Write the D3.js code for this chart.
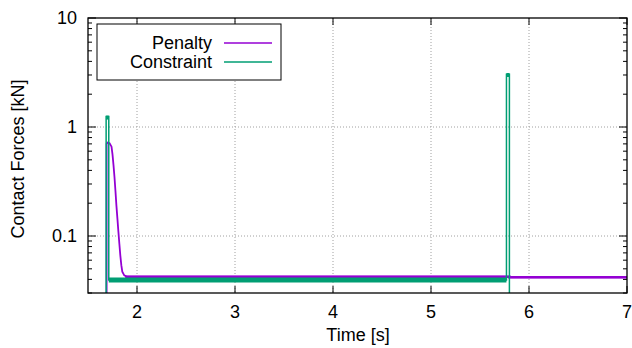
<!DOCTYPE html>
<html>
<head>
<meta charset="utf-8">
<script src="https://cdn.jsdelivr.net/npm/d3@7"></script>
<style>
  body { margin: 0; background: #fff; }
  svg text { font-family: "Liberation Sans", Arial, sans-serif; fill: #000; }
</style>
</head>
<body>
<svg id="chart" width="632" height="348"></svg>
<script>
// values
const x_ticks = [2, 3, 4, 5, 6, 7]
const y_ticks = [0.1, 1, 10]
const y_tick_labels = ['0.1', '1', '10']

// [time s, force kN]; 1e-4 means below the plotted range
const penalty = [
  [1.50, 1e-4], [1.690, 1e-4], [1.690, 0.70], [1.70, 0.72], [1.72, 0.71],
  [1.74, 0.66], [1.75, 0.56], [1.76, 0.45], [1.77, 0.35], [1.78, 0.26],
  [1.79, 0.19], [1.80, 0.145], [1.81, 0.11], [1.82, 0.085], [1.83, 0.066],
  [1.84, 0.054], [1.85, 0.047], [1.87, 0.0435], [1.90, 0.0423],
  [5.80, 0.0423], [5.80, 0.0418], [7.00, 0.0418]
]
const penalty_band = [[1.88, 0.0423], [5.80, 0.0423], [5.80, 0.0418], [7.00, 0.0418]]

const constraint = [
  [1.50, 1e-4], [1.685, 1e-4], [1.685, 1.25], [1.712, 1.25], [1.712, 0.0395],
  [5.770, 0.0395], [5.770, 3.05], [5.800, 3.05], [5.800, 1e-4], [7.00, 1e-4]
]
const constraint_band = [[1.712, 0.0395], [5.770, 0.0395]]
const constraint_caps = [
  [[1.685, 1.22], [1.712, 1.22]],
  [[5.770, 3.0], [5.800, 3.0]]
]

const purple = '#9400d3'
const teal = '#009e73'

const svg = d3.select('#chart')
const m_left = 88, m_right = 627, m_top = 18, m_bottom = 293

const x = d3.scaleLinear().domain([1.5, 7]).range([m_left, m_right])
const y = d3.scaleLog().domain([0.03, 10]).range([m_bottom, m_top])

// grid
const grid = svg.append('g')
  .attr('stroke', '#a0a0a0').attr('stroke-width', 1).attr('stroke-dasharray', '1,2')
x_ticks.filter(d => d < 7).forEach(d => {
  grid.append('line').attr('x1', x(d)).attr('x2', x(d)).attr('y1', m_top).attr('y2', m_bottom)
})
y_ticks.filter(d => d < 10).forEach(d => {
  grid.append('line').attr('x1', m_left).attr('x2', m_right).attr('y1', y(d)).attr('y2', y(d))
})

// minor y ticks
const minor = []
;[0.01, 0.1, 1].forEach(dec => {
  for (let k = 2; k <= 9; k++) {
    const v = dec * k
    if (v >= 0.03 && v < 10) minor.push(v)
  }
})

const ticks = svg.append('g').attr('stroke', '#000').attr('stroke-width', 1)
minor.forEach(v => {
  ticks.append('line').attr('x1', m_left).attr('x2', m_left + 4).attr('y1', y(v)).attr('y2', y(v))
  ticks.append('line').attr('x1', m_right).attr('x2', m_right - 4).attr('y1', y(v)).attr('y2', y(v))
})
y_ticks.forEach(v => {
  ticks.append('line').attr('x1', m_left).attr('x2', m_left + 8).attr('y1', y(v)).attr('y2', y(v))
  ticks.append('line').attr('x1', m_right).attr('x2', m_right - 8).attr('y1', y(v)).attr('y2', y(v))
})
x_ticks.forEach(v => {
  ticks.append('line').attr('x1', x(v)).attr('x2', x(v)).attr('y1', m_bottom).attr('y2', m_bottom - 7)
  ticks.append('line').attr('x1', x(v)).attr('x2', x(v)).attr('y1', m_top).attr('y2', m_top + 7)
})

// data
svg.append('clipPath').attr('id', 'clip')
  .append('rect').attr('x', m_left).attr('y', m_top).attr('width', m_right - m_left).attr('height', m_bottom - m_top)

const plot = svg.append('g').attr('clip-path', 'url(#clip)')
const line = d3.line().x(d => x(d[0])).y(d => y(d[1]))

plot.append('path').datum(penalty).attr('d', line)
  .attr('fill', 'none').attr('stroke', purple).attr('stroke-width', 1.8)
plot.append('path').datum(penalty_band).attr('d', line)
  .attr('fill', 'none').attr('stroke', purple).attr('stroke-width', 2.6)

plot.append('path').datum(constraint).attr('d', line)
  .attr('fill', 'none').attr('stroke', teal).attr('stroke-width', 1.5)
plot.append('path').datum(constraint_band).attr('d', line)
  .attr('fill', 'none').attr('stroke', teal).attr('stroke-width', 5)
constraint_caps.forEach(c => {
  plot.append('path').datum(c).attr('d', line)
    .attr('fill', 'none').attr('stroke', teal).attr('stroke-width', 4)
})

// frame
svg.append('rect').attr('x', m_left).attr('y', m_top).attr('width', m_right - m_left).attr('height', m_bottom - m_top)
  .attr('fill', 'none').attr('stroke', '#000').attr('stroke-width', 1.3)

// tick labels
svg.append('g').selectAll('text').data(x_ticks).join('text')
  .attr('x', d => x(d)).attr('y', 318).attr('text-anchor', 'middle')
  .attr('font-size', 18).text(d => d)
svg.append('g').selectAll('text').data(y_ticks).join('text')
  .attr('x', 77).attr('y', d => y(d) + 6).attr('text-anchor', 'end')
  .attr('font-size', 18).text((d, i) => y_tick_labels[i])

// axis titles
svg.append('text').attr('x', 358).attr('y', 341).attr('text-anchor', 'middle')
  .attr('font-size', 18).text('Time [s]')
svg.append('text').attr('transform', 'translate(24,159) rotate(-90)').attr('text-anchor', 'middle')
  .attr('font-size', 18).text('Contact Forces [kN]')

// legend
const legend = svg.append('g')
legend.append('rect').attr('x', 97).attr('y', 24).attr('width', 184).attr('height', 56)
  .attr('fill', '#fff').attr('stroke', '#000').attr('stroke-width', 1)
const entries = [['Penalty', purple], ['Constraint', teal]]
entries.forEach((e, i) => {
  const ly = 43 + i * 19
  legend.append('text').attr('x', 212).attr('y', ly + 6).attr('text-anchor', 'end')
    .attr('font-size', 18).text(e[0])
  legend.append('line').attr('x1', 224).attr('x2', 272).attr('y1', ly).attr('y2', ly)
    .attr('stroke', e[1]).attr('stroke-width', 1.3)
})
</script>
</body>
</html>
